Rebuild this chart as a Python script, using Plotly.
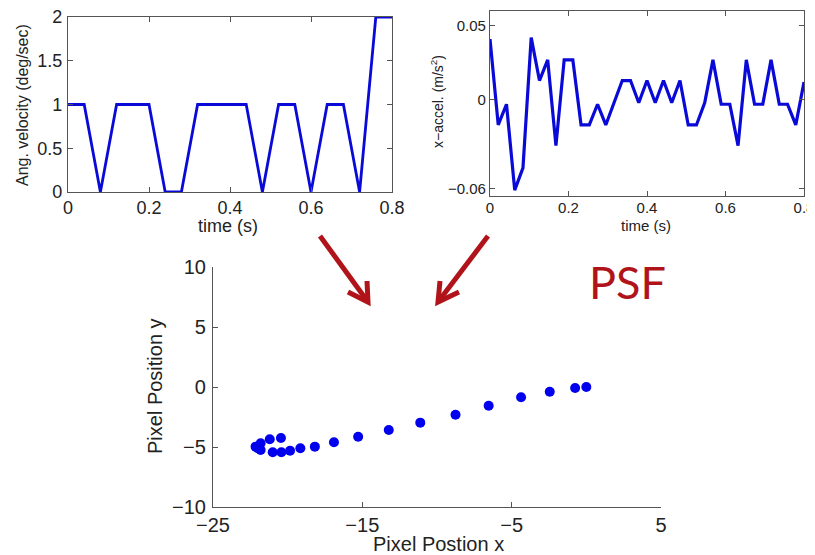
import plotly.graph_objects as go

# The page body has an 8px margin, so the figure starts at (8, 8) in the window.
OFF = 8
W, H = 815 - OFF, 555 - OFF

# ---------------- data ----------------
# Angular velocity (top-left)
vel_t = [0.0, 0.04, 0.08, 0.12, 0.16, 0.20, 0.24, 0.28, 0.32, 0.36, 0.40,
         0.44, 0.48, 0.52, 0.56, 0.60, 0.64, 0.68, 0.72, 0.76, 0.80]
vel_v = [1, 1, 0, 1, 1, 1, 0, 0, 1, 1, 1,
         1, 0, 1, 1, 0, 1, 1, 0, 2, 2]

# x-acceleration (top-right)
acc_t = [0.0, 0.021, 0.042, 0.063, 0.084, 0.105, 0.126, 0.147, 0.168, 0.189,
         0.211, 0.232, 0.253, 0.274, 0.295, 0.316, 0.337, 0.358, 0.379, 0.400,
         0.421, 0.442, 0.463, 0.484, 0.505, 0.526, 0.547, 0.568, 0.589, 0.611,
         0.632, 0.653, 0.674, 0.695, 0.716, 0.737, 0.758, 0.779, 0.800]
acc_v = [0.041, -0.017, -0.003, -0.061, -0.046, 0.042, 0.013, 0.027, -0.031, 0.027,
         0.027, -0.017, -0.017, -0.003, -0.017, -0.002, 0.013, 0.013, -0.002, 0.013,
         -0.002, 0.013, -0.002, 0.013, -0.017, -0.017, -0.002, 0.027, -0.003, -0.003,
         -0.031, 0.027, -0.003, -0.003, 0.027, -0.003, -0.003, -0.017, 0.012]

# PSF pixel positions (bottom)
psf_x = [0.0, -0.75, -2.45, -4.37, -6.54, -8.76, -11.12, -13.23, -15.28, -16.9,
         -18.18, -19.15, -19.84, -20.42, -21.0, -21.81, -22.15, -21.81, -21.2, -20.45, -22.0]
psf_y = [0.0, -0.08, -0.39, -0.86, -1.56, -2.31, -2.97, -3.58, -4.14, -4.61,
         -4.97, -5.11, -5.31, -5.44, -5.44, -5.25, -4.97, -4.69, -4.35, -4.25, -5.1]

vel_xticks = [0, 0.2, 0.4, 0.6, 0.8]
vel_xticklabels = ["0", "0.2", "0.4", "0.6", "0.8"]
vel_yticks = [0, 0.5, 1, 1.5, 2]
vel_yticklabels = ["0", "0.5", "1", "1.5", "2"]
acc_yticks = [-0.06, 0, 0.05]
acc_yticklabels = ["\u22120.06", "0", "0.05"]
psf_xticks = [-25, -15, -5, 5]
psf_xticklabels = ["\u221225", "\u221215", "\u22125", "5"]
psf_yticks = [-10, -5, 0, 5, 10]
psf_yticklabels = ["\u221210", "\u22125", "0", "5", "10"]

FONT = "Liberation Sans, Arial, sans-serif"
TXT = "#222222"
AX = "#555555"
BLUE = "#0a0ad8"
RED = "#b0141a"


def px(x):
    return (x - OFF) / W


def py(y):
    return 1 - (y - OFF) / H


def dom_x(a, b):
    return [px(a), px(b)]


def dom_y(top, bottom):
    return [py(bottom), py(top)]


fig = go.Figure()

fig.add_trace(go.Scatter(x=vel_t, y=vel_v, mode="lines", xaxis="x", yaxis="y",
                         line=dict(color=BLUE, width=2.8), showlegend=False))
fig.add_trace(go.Scatter(x=acc_t, y=acc_v, mode="lines", xaxis="x2", yaxis="y2",
                         line=dict(color=BLUE, width=3.2), showlegend=False))
fig.add_trace(go.Scatter(x=psf_x, y=psf_y, mode="markers", xaxis="x3", yaxis="y3",
                         marker=dict(color="#0000ee", size=10, line=dict(width=0)),
                         showlegend=False, cliponaxis=False))

common = dict(showgrid=False, zeroline=False, showline=True, linecolor=AX, linewidth=1.2,
              ticks="inside", tickcolor=AX, ticklen=5, tickwidth=1, automargin=False,
              ticklabeloverflow="allow")

fig.update_layout(
    width=W, height=H,
    margin=dict(l=0, r=0, t=0, b=0, pad=0, autoexpand=False),
    showlegend=False,
    paper_bgcolor="white", plot_bgcolor="white",
    font=dict(family=FONT, color=TXT),
    xaxis=dict(domain=dom_x(68, 392), range=[0, 0.8], tickvals=vel_xticks,
               ticktext=vel_xticklabels, mirror="ticks",
               tickfont=dict(size=18, color=TXT), anchor="y", ticklabelstandoff=-1, **common),
    yaxis=dict(domain=dom_y(17, 192), range=[0, 2], tickvals=vel_yticks,
               ticktext=vel_yticklabels, mirror="ticks",
               tickfont=dict(size=18, color=TXT), anchor="x", ticklabelstandoff=1, **common),
    xaxis2=dict(domain=dom_x(490, 804), range=[0, 0.8], tickvals=vel_xticks,
                ticktext=vel_xticklabels, mirror="ticks",
                tickfont=dict(size=15, color=TXT), anchor="y2", ticklabelstandoff=-2, **common),
    yaxis2=dict(domain=dom_y(11, 196), range=[-0.065, 0.06], tickvals=acc_yticks,
                ticktext=acc_yticklabels, mirror="ticks",
                tickfont=dict(size=15, color=TXT), anchor="x2", ticklabelstandoff=0, **common),
    xaxis3=dict(domain=dom_x(213, 661), range=[-25, 5], tickvals=psf_xticks,
                ticktext=psf_xticklabels,
                tickfont=dict(size=20, color=TXT), anchor="y3", ticklabelstandoff=0, **common),
    yaxis3=dict(domain=dom_y(267, 507), range=[-10, 10], tickvals=psf_yticks,
                ticktext=psf_yticklabels,
                tickfont=dict(size=20, color=TXT), anchor="x3", ticklabelstandoff=2, **common),
)

ann = []


def label(text, x, y, size, angle=0, color=TXT, family=FONT):
    ann.append(dict(text=text, x=px(x), y=py(y), xref="paper", yref="paper",
                    showarrow=False, xanchor="center", yanchor="middle",
                    textangle=angle, font=dict(size=size, color=color, family=family)))


label("time (s)", 228, 226, 18)
label("Ang. velocity (deg/sec)", 22, 105, 16, angle=-90)
label("time (s)", 646, 225, 15)
label("x\u2212accel. (m/s<sup>2</sup>)", 437, 102, 14, angle=-90)
label("Pixel Postion x", 438, 544, 20)
label("Pixel Position y", 155, 386, 20, angle=-90)
label("PSF", 627, 282, 45, color=RED, family="Lato, Open Sans, sans-serif")

fig.update_layout(annotations=ann)

# red arrows (decoration)
shapes = []
arrows = [
    ((320, 236), (368, 302), (348, 292), (367, 281)),
    ((488, 236), (438, 302), (459, 292), (440, 281)),
]
for tail, tip, w1, w2 in arrows:
    shapes.append(dict(type="line", xref="paper", yref="paper",
                       x0=px(tail[0]), y0=py(tail[1]), x1=px(tip[0]), y1=py(tip[1]),
                       line=dict(color=RED, width=5)))
    path = "M {} {} L {} {} L {} {}".format(px(w1[0]), py(w1[1]), px(tip[0]), py(tip[1]),
                                            px(w2[0]), py(w2[1]))
    shapes.append(dict(type="path", xref="paper", yref="paper", path=path,
                       line=dict(color=RED, width=5)))
fig.update_layout(shapes=shapes)

fig.write_html("out.html")
